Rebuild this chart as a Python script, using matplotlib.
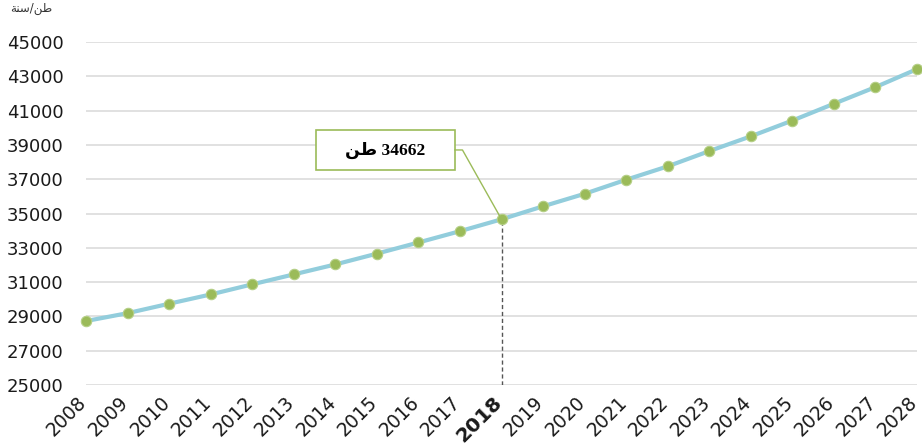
import numpy as np
import matplotlib
matplotlib.use("Agg")
import matplotlib.pyplot as plt
import matplotlib.transforms as mtransforms
from matplotlib.patches import Rectangle

# data (tonnes per year)
years = list(range(2008, 2029))
tonnes = [28730, 29190, 29740, 30280, 30870, 31450, 32030, 32660, 33310, 33970,
          34662, 35420, 36150, 36970, 37750, 38640, 39500, 40420, 41400, 42370, 43420]
y_ticks = list(range(25000, 45001, 2000))
highlight_year = 2018
highlight_value = 34662

# arabic text given as presentation forms in visual order (matplotlib does no shaping)
unit_label = "\ufe94\ufee8\ufeb3/\ufee6\ufec3"   # طن/سنة
callout_label = "\ufee6\ufec3 34662"            # 34662 طن

line_col = "#92cddc"
marker_col = "#9bbb59"
grid_col = "#dcdcdc"

fig = plt.figure(figsize=(9.22, 4.45), dpi=100)
ax = fig.add_axes([0.0933, 0.1348, 0.9013, 0.7708])

ax.plot(years, tonnes, color=line_col, lw=3, zorder=3, solid_capstyle="round",
        marker="o", ms=7.5, mfc=marker_col, mec="#b5cf86", mew=0.8, clip_on=False)

ax.set_xlim(2008, 2028)
ax.set_ylim(25000, 45000)
ax.set_yticks(y_ticks)
ax.set_yticklabels([str(v) for v in y_ticks], fontsize=13, color="#1a1a1a")
ax.set_xticks(years)
ax.set_xticklabels([])
ax.tick_params(axis="y", length=0, pad=16)
ax.tick_params(axis="x", length=0)
ax.grid(axis="y", color=grid_col, lw=1.2)
ax.set_axisbelow(True)
for s in ax.spines.values():
    s.set_visible(False)

# rotated year labels, drawn by hand so they can be nudged like the excel ones
shift = mtransforms.ScaledTranslation(-9 / 100, -8 / 100, fig.dpi_scale_trans)
for yr in years:
    bold = yr == highlight_year
    ax.text(yr, 0, str(yr), transform=ax.get_xaxis_transform() + shift,
            rotation=45, ha="right", va="top", rotation_mode="anchor",
            fontsize=14.5 if bold else 13.5, fontweight="bold" if bold else "normal",
            color="#1a1a1a")

# dashed drop line for the highlighted year
ax.plot([highlight_year, highlight_year], [25000, highlight_value], ls=(0, (3, 2)),
        color="#555555", lw=1, zorder=2)

# callout box
bx0, bx1, by0, by1 = 2013.54, 2016.88, 37540, 39870
ax.add_patch(Rectangle((bx0, by0), bx1 - bx0, by1 - by0, fc="white",
                       ec=marker_col, lw=1.2, zorder=4))
ax.text((bx0 + bx1) / 2, (by0 + by1) / 2, callout_label, ha="center", va="center",
        fontsize=12.5, fontweight="bold", family=["Liberation Serif", "DejaVu Sans"],
        zorder=5)
ymid = (by0 + by1) / 2
ax.plot([bx1, bx1 + 0.18, highlight_year], [ymid, ymid, highlight_value],
        color=marker_col, lw=1, zorder=4)

fig.text(0.011, 0.982, unit_label, ha="left", va="center", fontsize=8.5,
         family=["DejaVu Sans"], color="#333333")

fig.savefig("out.png", dpi=100)
